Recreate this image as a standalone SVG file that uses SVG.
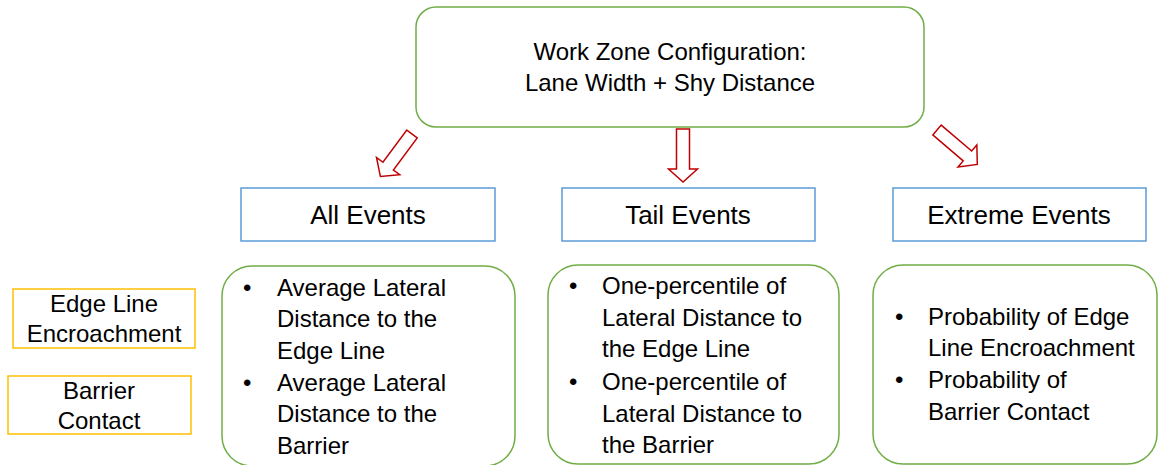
<svg xmlns="http://www.w3.org/2000/svg" width="1158" height="465" viewBox="0 0 1158 465">
<style>
text{font-family:"Liberation Sans",Arial,sans-serif;fill:#000}
.g{fill:#fff;stroke:#70AD47;stroke-width:1.5}
.b{fill:#fff;stroke:#5B9BD5;stroke-width:1.5}
.y{fill:#fff;stroke:#FFC000;stroke-width:1.5}
.arr{fill:#fff;stroke:#C00000;stroke-width:1.5;stroke-linejoin:miter}
.t23{font-size:24px}
.t26{font-size:26px;text-anchor:middle}
.t22{font-size:24px;text-anchor:middle}
.c{text-anchor:middle}
</style>
<defs>
<path id="blk" d="M-6.5,0 H6.5 V40 H14.5 L0,53 L-14.5,40 H-6.5 Z"/>
</defs>
<g id="connectors">
<use href="#blk" class="arr" transform="translate(412,134) rotate(36.6)"/>
<use href="#blk" class="arr" transform="translate(683,129)"/>
<use href="#blk" class="arr" transform="translate(937,130) rotate(-49.5)"/>
</g>
<g id="config">
<rect class="g" x="416" y="7" width="508" height="120" rx="20"/>
<text class="t23 c" x="670" y="60">Work Zone Configuration:</text>
<text class="t23 c" x="670" y="91">Lane Width + Shy Distance</text>
</g>
<g id="all-events">
<rect class="b" x="241" y="188" width="254" height="53"/>
<text class="t26" x="368" y="224">All Events</text>
</g>
<g id="tail-events">
<rect class="b" x="562" y="188" width="253" height="53"/>
<text class="t26" x="688" y="224">Tail Events</text>
</g>
<g id="extreme-events">
<rect class="b" x="893" y="188" width="253" height="53"/>
<text class="t26" x="1019" y="224">Extreme Events</text>
</g>
<g id="edge-line">
<rect class="y" x="13" y="289" width="182" height="59"/>
<text class="t22" x="104" y="312">Edge Line</text>
<text class="t22" x="104" y="342">Encroachment</text>
</g>
<g id="barrier">
<rect class="y" x="8" y="376" width="183" height="58"/>
<text class="t22" x="99" y="399">Barrier</text>
<text class="t22" x="99" y="429">Contact</text>
</g>
<g id="all-metrics">
<rect class="g" x="222" y="266" width="293" height="200" rx="30"/>
<text class="t23" x="243" y="296">•</text>
<text class="t23" x="277" y="296">Average Lateral</text>
<text class="t23" x="277" y="327">Distance to the</text>
<text class="t23" x="277" y="359">Edge Line</text>
<text class="t23" x="243" y="391">•</text>
<text class="t23" x="277" y="391">Average Lateral</text>
<text class="t23" x="277" y="422">Distance to the</text>
<text class="t23" x="277" y="454">Barrier</text>
</g>
<g id="tail-metrics">
<rect class="g" x="548" y="265" width="291" height="199" rx="30"/>
<text class="t23" x="569" y="294">•</text>
<text class="t23" x="602" y="294">One-percentile of</text>
<text class="t23" x="602" y="326">Lateral Distance to</text>
<text class="t23" x="602" y="357">the Edge Line</text>
<text class="t23" x="569" y="390">•</text>
<text class="t23" x="602" y="390">One-percentile of</text>
<text class="t23" x="602" y="422">Lateral Distance to</text>
<text class="t23" x="602" y="453">the Barrier</text>
</g>
<g id="extreme-metrics">
<rect class="g" x="873" y="265" width="284" height="199" rx="30"/>
<text class="t23" x="895" y="325">•</text>
<text class="t23" x="928" y="325">Probability of Edge</text>
<text class="t23" x="928" y="356">Line Encroachment</text>
<text class="t23" x="895" y="388">•</text>
<text class="t23" x="928" y="388">Probability of</text>
<text class="t23" x="928" y="420">Barrier Contact</text>
</g>
</svg>
